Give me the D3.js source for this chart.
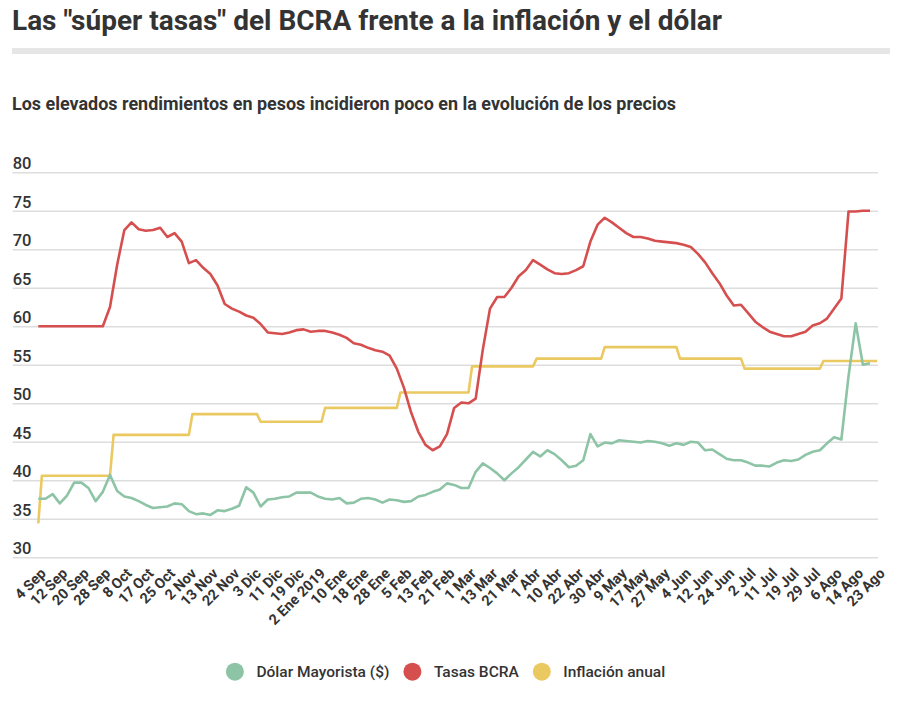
<!DOCTYPE html>
<html>
<head>
<meta charset="utf-8">
<script src="https://cdn.jsdelivr.net/npm/d3@7"></script>
<style>
  body { margin: 0; background: #fff; }
  svg text { font-family: Roboto, "Noto Sans", sans-serif; fill: #333; }
</style>
</head>
<body>
<svg id="chart" width="909" height="702"></svg>
<script>
let d3 = window.d3;

// labels every 6 trading days, 4 Sep 2018 -> 23 Ago 2019
const dateLabels = [
  "4 Sep", "12 Sep", "20 Sep", "28 Sep", "8 Oct", "17 Oct", "25 Oct", "2 Nov",
  "13 Nov", "22 Nov", "3 Dic", "11 Dic", "19 Dic", "2 Ene 2019", "10 Ene",
  "18 Ene", "28 Ene", "5 Feb", "13 Feb", "21 Feb", "1 Mar", "13 Mar", "21 Mar",
  "1 Abr", "10 Abr", "22 Abr", "30 Abr", "9 May", "17 May", "27 May", "4 Jun",
  "12 Jun", "24 Jun", "2 Jul", "11 Jul", "19 Jul", "29 Jul", "6 Ago", "14 Ago",
  "23 Ago",
];
const labelEvery = 6;
const lastDay = 234;

// values read every 2 trading days
const sampleStep = 2;
const tasas = [
  60, 60, 60, 60, 60, 60, 60, 60, 60, 60,
  62.5, 68, 72.5, 73.5, 72.6, 72.4, 72.5, 72.8, 71.6, 72.1,
  71.0, 68.2, 68.6, 67.6, 66.8, 65.3, 62.9, 62.3, 61.9, 61.4,
  61.1, 60.3, 59.2, 59.1, 59.0, 59.2, 59.5, 59.6, 59.3, 59.4,
  59.4, 59.2, 58.9, 58.5, 57.8, 57.6, 57.2, 56.9, 56.7, 56.2,
  54.5, 52.0, 48.8, 46.3, 44.6, 43.9, 44.4, 46.0, 49.4, 50.1,
  50.0, 50.6, 57.0, 62.3, 63.8, 63.8, 65.0, 66.5, 67.3, 68.6,
  68.0, 67.4, 66.9, 66.8, 66.9, 67.3, 67.8, 71.0, 73.2, 74.1,
  73.5, 72.8, 72.1, 71.6, 71.6, 71.4, 71.1, 71.0, 70.9, 70.8,
  70.6, 70.3, 69.4, 68.3, 66.9, 65.6, 64.0, 62.7, 62.8, 61.7,
  60.6, 59.9, 59.3, 59.0, 58.7, 58.7, 59.0, 59.3, 60.1, 60.4,
  61.0, 62.3, 63.6, 74.9, 74.9, 75.0, 75.0,
];
const dolar = [
  37.6, 37.6, 38.2, 37.0, 38.0, 39.7, 39.7, 39.0, 37.3, 38.5,
  40.7, 38.6, 37.9, 37.7, 37.3, 36.8, 36.4, 36.5, 36.6, 37.0,
  36.9, 36.0, 35.6, 35.7, 35.5, 36.1, 36.0, 36.3, 36.7, 39.1,
  38.4, 36.6, 37.5, 37.6, 37.8, 37.9, 38.4, 38.4, 38.4, 37.9,
  37.6, 37.5, 37.7, 37.0, 37.1, 37.6, 37.7, 37.5, 37.1, 37.5,
  37.4, 37.2, 37.3, 37.9, 38.1, 38.5, 38.8, 39.6, 39.4, 39.0,
  39.0, 41.1, 42.2, 41.6, 40.9, 40.0, 40.9, 41.7, 42.7, 43.7,
  43.1, 43.9, 43.4, 42.6, 41.7, 41.9, 42.6, 46.0, 44.4, 44.9,
  44.8, 45.2, 45.1, 45.0, 44.9, 45.1, 45.0, 44.8, 44.5, 44.8,
  44.6, 45.0, 44.9, 43.9, 44.0, 43.4, 42.8, 42.6, 42.6, 42.3,
  41.9, 41.9, 41.8, 42.3, 42.6, 42.5, 42.7, 43.3, 43.7, 43.9,
  44.8, 45.6, 45.3, 53.5, 60.4, 55.0, 55.2,
];

// annual inflation: first trading day of each level and its value
const inflStart = [0, 1, 21, 43, 62, 80, 101, 121, 139, 158, 179, 197, 219];
const inflValues = [34.4, 40.6, 45.9, 48.6, 47.6, 49.4, 51.4, 54.8, 55.8, 57.3, 55.8, 54.5, 55.5];

const yTicks = [30, 35, 40, 45, 50, 55, 60, 65, 70, 75, 80];

const colors = { dolar: "#8dc4a5", tasas: "#d64f4f", infl: "#ebc961" };
const legendItems = [
  { label: "Dólar Mayorista ($)", color: colors.dolar },
  { label: "Tasas BCRA", color: colors.tasas },
  { label: "Inflación anual", color: colors.infl },
];

const svg = d3.select("#chart");

// header
svg.append("text")
  .attr("x", 12)
  .attr("y", 29.5)
  .attr("textLength", 710)
  .attr("lengthAdjust", "spacingAndGlyphs")
  .style("font-size", "28px")
  .style("font-weight", "700")
  .text('Las "súper tasas" del BCRA frente a la inflación y el dólar');

svg.append("rect")
  .attr("x", 12)
  .attr("y", 48)
  .attr("width", 878)
  .attr("height", 6)
  .attr("fill", "#e6e6e6");

svg.append("text")
  .attr("x", 12)
  .attr("y", 110)
  .attr("textLength", 664)
  .attr("lengthAdjust", "spacingAndGlyphs")
  .style("font-size", "17.5px")
  .style("font-weight", "700")
  .text("Los elevados rendimientos en pesos incidieron poco en la evolución de los precios");

const xScale = d3.scaleLinear().domain([0, lastDay]).range([38.3, 877.2]);
const yScale = d3.scaleLinear().domain([30, 80]).range([557.3, 172.3]);

// y grid + labels
const yAxis = d3.axisLeft(yScale)
  .tickValues(yTicks)
  .tickSize(-(878 - 12.7))
  .tickFormat(d3.format("d"));

const yAxisG = svg.append("g")
  .attr("transform", "translate(12.7,0)")
  .call(yAxis);
yAxisG.select(".domain").remove();
yAxisG.selectAll(".tick line")
  .attr("stroke", "#dddddd")
  .attr("stroke-width", 1.6);
yAxisG.selectAll(".tick text")
  .attr("x", 0)
  .attr("dy", -3.5)
  .attr("text-anchor", "start")
  .style("font-size", "16.5px")
  .style("font-weight", "500");

// x labels
const xAxis = d3.axisBottom(xScale)
  .tickValues(dateLabels.map((d, i) => i * labelEvery))
  .tickSize(0)
  .tickFormat((d) => dateLabels[d / labelEvery]);

const xAxisG = svg.append("g")
  .attr("transform", "translate(0,557.3)")
  .call(xAxis);
xAxisG.select(".domain").remove();
xAxisG.selectAll(".tick text")
  .attr("y", 0)
  .attr("dy", 0)
  .attr("text-anchor", "end")
  .attr("transform", "translate(8,17) rotate(-45)")
  .style("font-size", "14.5px")
  .style("font-weight", "700");

// series
const toPoints = (values) => values.map((v, i) => [i * sampleStep, v]);

const inflPoints = [];
inflStart.forEach((s, i) => {
  const end = i < inflStart.length - 1 ? inflStart[i + 1] - 1 : lastDay;
  inflPoints.push([s, inflValues[i]]);
  if (end > s) inflPoints.push([end, inflValues[i]]);
});

const line = d3.line()
  .x((d) => xScale(d[0]))
  .y((d) => yScale(d[1]));

const series = [
  { points: inflPoints, color: colors.infl },
  { points: toPoints(dolar), color: colors.dolar },
  { points: toPoints(tasas), color: colors.tasas },
];

svg.append("g")
  .selectAll("path")
  .data(series)
  .enter()
  .append("path")
  .attr("d", (d) => line(d.points))
  .style("fill", "none")
  .style("stroke", (d) => d.color)
  .style("stroke-width", 2.6)
  .style("stroke-linejoin", "round");

// legend, centred under the chart
const legend = svg.append("g").attr("transform", "translate(0,671.7)");
const items = legend.selectAll("g")
  .data(legendItems)
  .enter()
  .append("g");

items.append("circle")
  .attr("r", 9)
  .attr("fill", (d) => d.color);

items.append("text")
  .attr("x", 21.5)
  .attr("y", 5.5)
  .style("font-size", "15.5px")
  .style("font-weight", "500")
  .text((d) => d.label);

let cursor = 0;
const offsets = [];
items.each(function () {
  offsets.push(cursor);
  const w = d3.select(this).select("text").node().getComputedTextLength();
  cursor += 21.5 + w + 23;
});
const totalWidth = cursor - 23 + 9;
const startX = 445.5 - totalWidth / 2 + 9;
items.attr("transform", (d, i) => `translate(${startX + offsets[i]},0)`);
</script>
</body>
</html>
